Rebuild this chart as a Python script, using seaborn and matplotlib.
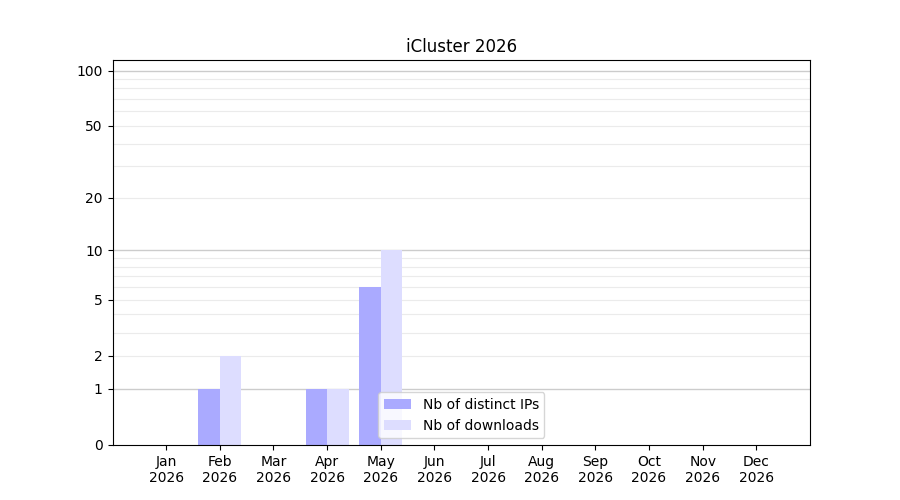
import numpy as np
import pandas as pd
import matplotlib
matplotlib.use('Agg')
import matplotlib.pyplot as plt
import seaborn as sns

# monthly counts
months = ['Jan\n2026', 'Feb\n2026', 'Mar\n2026', 'Apr\n2026', 'May\n2026', 'Jun\n2026',
          'Jul\n2026', 'Aug\n2026', 'Sep\n2026', 'Oct\n2026', 'Nov\n2026', 'Dec\n2026']
distinct_ips = [0, 1, 0, 1, 6, 0, 0, 0, 0, 0, 0, 0]
downloads = [0, 2, 0, 1, 10, 0, 0, 0, 0, 0, 0, 0]
series_names = ['Nb of distinct IPs', 'Nb of downloads']

df = pd.DataFrame({
    'month': months * 2,
    'count': distinct_ips + downloads,
    'series': [series_names[0]] * len(months) + [series_names[1]] * len(months),
})

fig, ax = plt.subplots(figsize=(9, 5), dpi=100)

sns.barplot(data=df, x='month', y='count', hue='series', order=months,
            hue_order=series_names, palette=['#aaaaff', '#ddddff'],
            saturation=1, width=0.8, linewidth=0, ax=ax, zorder=2)

# log(1+x) scale so that zero still shows
ax.set_yscale('function', functions=(lambda v: np.log10(1 + np.maximum(v, 0)),
                                     lambda v: 10 ** v - 1))
ax.set_ylim(0, 114)
ax.set_xlim(-1, 12)

ax.set_yticks([0, 1, 2, 5, 10, 20, 50, 100])
ax.set_yticklabels(['0', '1', '2', '5', '10', '20', '50', '100'])
minor = [2, 3, 4, 5, 6, 7, 8, 9, 20, 30, 40, 50, 60, 70, 80, 90]
ax.set_yticks(minor, minor=True)
ax.tick_params(axis='y', which='minor', length=0)

# light grid on minor values, darker on decades
for v in minor:
    ax.axhline(v, color='#ebebeb', linewidth=0.8, zorder=0.5)
for v in [1, 10, 100]:
    ax.axhline(v, color='#cccccc', linewidth=1.0, zorder=0.6)

ax.set_xlabel('')
ax.set_ylabel('')
ax.set_title('iCluster 2026', fontsize=12)

handles, labels = ax.get_legend_handles_labels()
ax.legend(handles, labels, loc='lower center')

fig.subplots_adjust(left=0.125, right=0.9, top=0.88, bottom=0.11)
fig.savefig('out.png', dpi=100)
